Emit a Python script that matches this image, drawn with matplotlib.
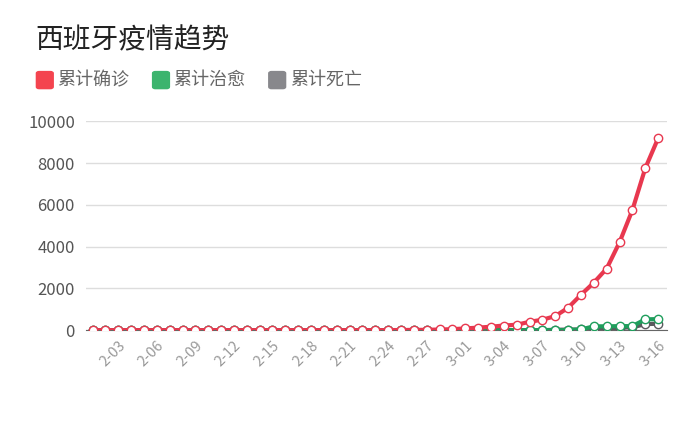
import matplotlib.pyplot as plt
from matplotlib.patches import FancyBboxPatch

plt.rcParams['font.family'] = ['Noto Sans CJK SC', 'DejaVu Sans']

dates = ['2-%02d' % d for d in range(1, 30)] + ['3-%02d' % d for d in range(1, 17)]
confirmed = [1] * 23 + [2, 6, 13, 15, 32, 45, 84, 120, 165, 222, 259, 400, 500, 673,
                         1073, 1695, 2277, 2950, 4209, 5753, 7753, 9191]
recovered = [0] * 9 + [1] * 29 + [32, 183, 183, 193, 193, 517, 530]
deaths = [0] * 36 + [17, 28, 35, 54, 84, 120, 136, 288, 309]

title = '西班牙疫情趋势'
names = ['累计确诊', '累计治愈', '累计死亡']
colors = ['#e8384f', '#1f9e5c', '#5a5a5e']
legend_colors = ['#f4444f', '#3cb46e', '#88888c']

fig = plt.figure(figsize=(7, 4.26), dpi=100)
ax = fig.add_axes([0.123, 0.225, 0.83, 0.49])
x = list(range(len(dates)))

for ys, c in [(deaths, colors[2]), (recovered, colors[1]), (confirmed, colors[0])]:
    ax.plot(x, ys, color=c, lw=3, marker='o', ms=6, mfc='white', mec=c, mew=1, zorder=3)

ax.set_ylim(0, 10000)
ax.set_xlim(-0.5, len(dates) - 0.3)
ax.set_yticks(range(0, 10001, 2000))
ax.grid(axis='y', color='#dddddd', lw=1)
ax.set_axisbelow(True)
for s in ['top', 'right', 'left']:
    ax.spines[s].set_visible(False)
ax.spines['bottom'].set_color('#666666')
ax.tick_params(axis='y', length=0, labelsize=12, labelcolor='#555555', pad=8)
ax.set_xticks(x[2::3])
ax.set_xticklabels(dates[2::3], rotation=45, ha='right', rotation_mode='anchor',
                   fontsize=10.5, color='#999999')
ax.tick_params(axis='x', length=0, pad=6)

fig.text(0.05, 0.905, title, fontsize=20, color='#222222', va='center')
lx = [0.052, 0.218, 0.384]
for px, name, c in zip(lx, names, legend_colors):
    fig.patches.append(FancyBboxPatch((px, 0.792), 0.024, 0.04, boxstyle='round,pad=0,rounding_size=0.004',
                                      transform=fig.transFigure, color=c))
    fig.text(px + 0.03, 0.812, name, fontsize=13, color='#666666', va='center')

fig.savefig('out.png', facecolor='white')
